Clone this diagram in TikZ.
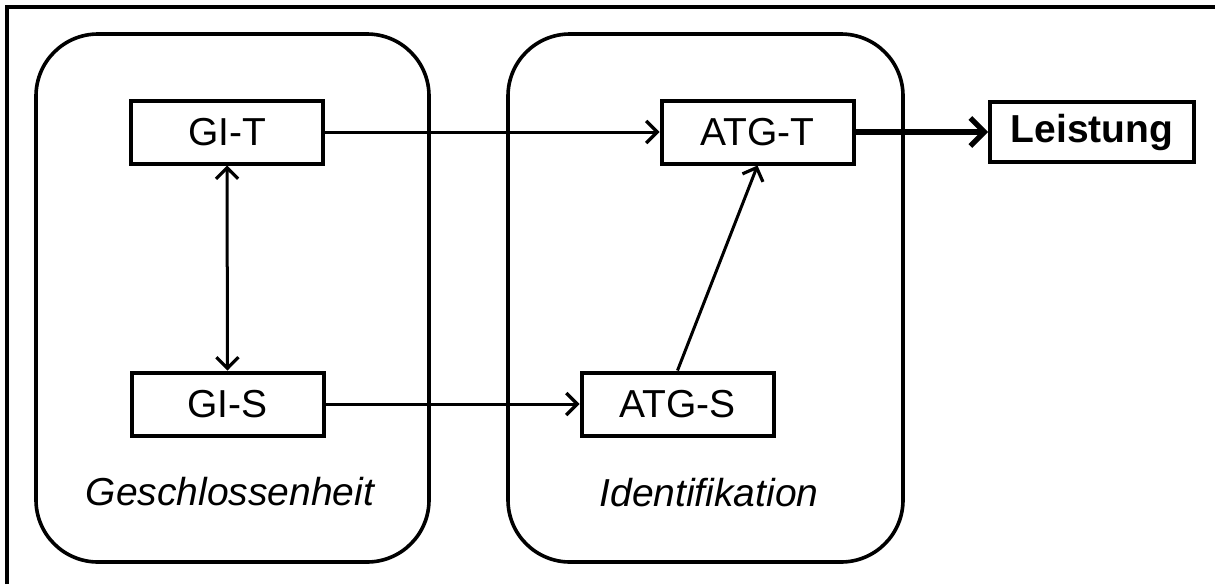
\documentclass[tikz,border=0pt]{standalone}
\usepackage{fontspec}
\setmainfont{Liberation Sans}
\usetikzlibrary{arrows.meta}
\begin{document}
\begin{tikzpicture}[x=0.5pt,y=-0.5pt,
  group/.style={line width=1.8pt, rounded corners=31pt},
  stepbox/.style={draw, line width=2pt, inner sep=0pt,
    minimum width=96pt, minimum height=31.5pt,
    font=\fontsize{19.5}{22}\selectfont},
  barb/.tip={Straight Barb[length=5.5pt,width=11pt,line width=1.6pt]},
  link/.style={line width=1.5pt, -barb},
  biglink/.style={line width=3pt, -{Straight Barb[length=7pt,width=14pt,line width=2.6pt]}},
  caption/.style={font=\fontsize{19.5}{22}\selectfont\itshape}]
\useasboundingbox (0,0) rectangle (1215,584);
% frame: top and left edges
\draw[line width=1.7pt] (7,584) -- (7,7) -- (1215,7);
% the two groups
\draw[group] (36,34) rectangle (429,562);
\draw[group] (508,34) rectangle (903,562);
% boxes
\node[stepbox] (git) at (227,132) {GI-T};
\node[stepbox] (gis) at (227.5,404) {GI-S};
\node[stepbox] (atgt) at (757.5,132) {ATG-T};
\node[stepbox] (atgs) at (677.5,404) {ATG-S};
\node[stepbox, minimum width=102pt, minimum height=30pt, font=\fontsize{19.5}{22}\selectfont\bfseries] (leistung) at (1092,132) {Leistung};
% group captions
\node[caption] (geschl) at (230,492) {Geschlossenheit};
\node[caption] (ident) at (709,493) {Identifikation};
% connectors
\draw[line width=1.5pt, barb-barb] (git.south) -- (gis.north);
\draw[link] (git.east) -- (atgt.west);
\draw[link] (gis.east) -- (atgs.west);
\draw[link] (atgs.north) -- (atgt.south);
\draw[biglink] (atgt.east) -- (leistung.west);
\end{tikzpicture}
\end{document}
